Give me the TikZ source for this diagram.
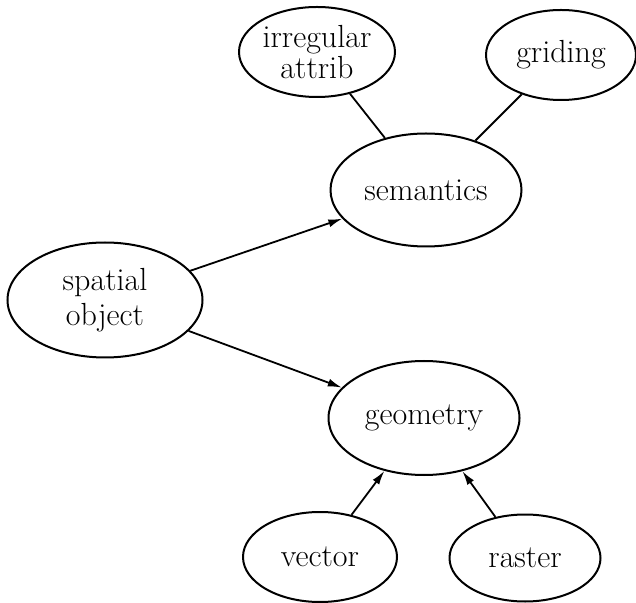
\documentclass[tikz,border=0pt]{standalone}
\usetikzlibrary{shapes.geometric,arrows.meta}
\begin{document}
\begin{tikzpicture}[x=0.5pt,y=-0.5pt,
    elli/.style={ellipse,draw,line width=1pt,inner sep=0pt,align=center,
        font=\fontsize{16}{17.5}\selectfont},
    link/.style={line width=0.9pt},
    arr/.style={line width=0.9pt,-{Latex[length=7pt,width=4pt]}}]
\useasboundingbox (0,0) rectangle (636,603);
% Uzly
\node[elli,minimum width=78pt,minimum height=45pt,
    font=\fontsize{16}{15.5}\selectfont] (irreg) at (317,52) {irregular\\attrib};
\node[elli,minimum width=75pt,minimum height=45pt] (grid) at (561,55) {griding};
\node[elli,minimum width=95.5pt,minimum height=56.5pt] (sem) at (426,190) {semantics};
\node[elli,minimum width=97.5pt,minimum height=57.5pt] (spat) at (105,300) {spatial\\object};
\node[elli,minimum width=95.5pt,minimum height=57pt] (geom) at (424,418) {geometry};
\node[elli,minimum width=77pt,minimum height=45pt] (vect) at (320,557) {vector};
\node[elli,minimum width=75.5pt,minimum height=43.5pt] (rast) at (525,558) {raster};
% Spojnice
\draw[link] (irreg) -- (sem);
\draw[link] (grid) -- (sem);
\draw[arr] (spat) -- (sem);
\draw[arr] (spat) -- (geom);
\draw[arr] (vect) -- (geom);
\draw[arr] (rast) -- (geom);
\end{tikzpicture}
\end{document}
